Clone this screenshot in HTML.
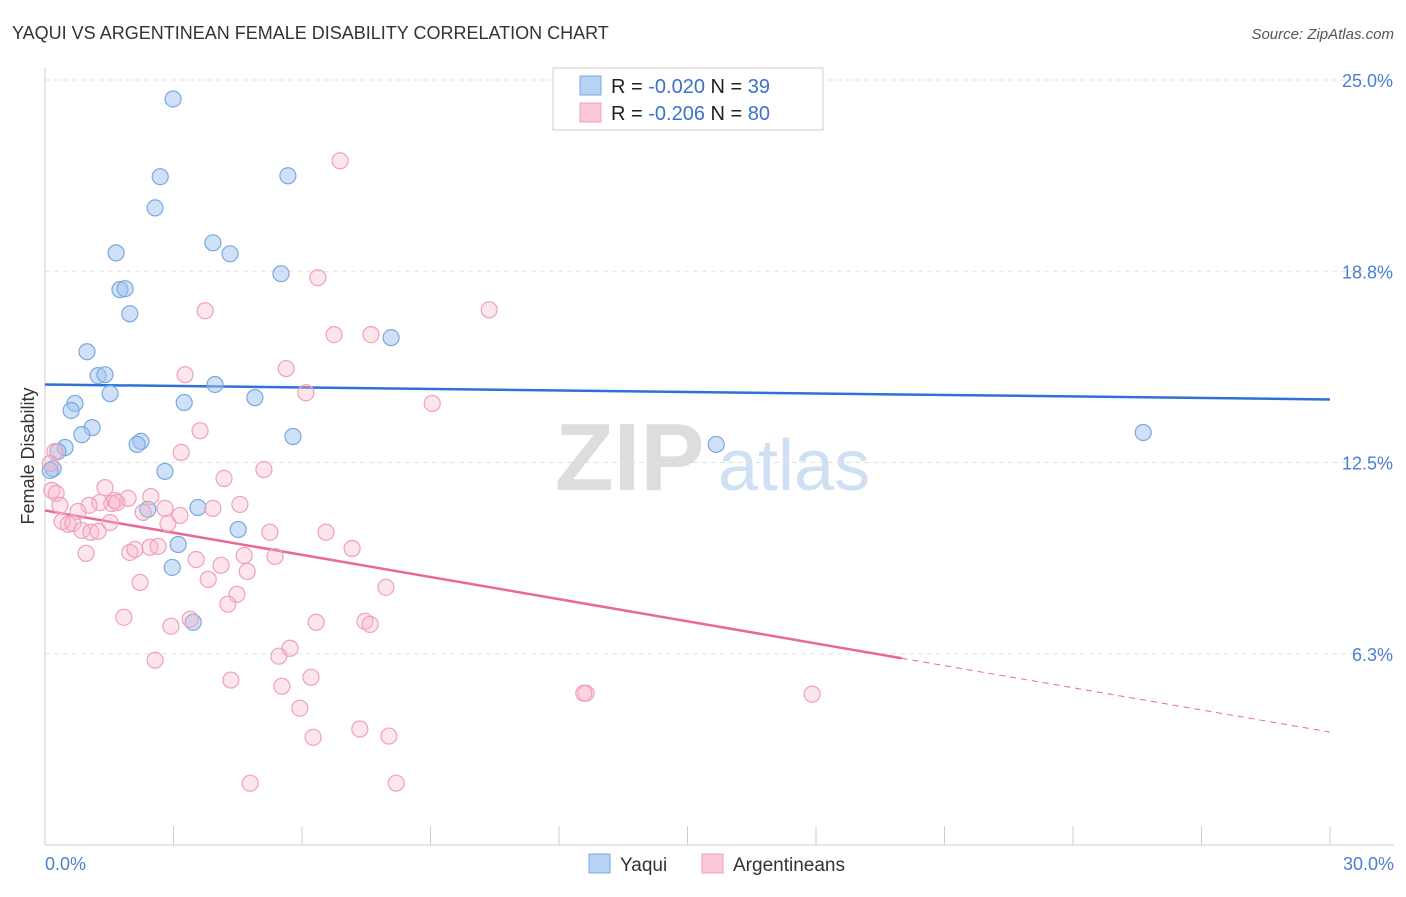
<!DOCTYPE html>
<html><head><meta charset="utf-8"><style>
body{margin:0;background:#fff;font-family:"Liberation Sans",sans-serif;}
svg text{font-family:"Liberation Sans",sans-serif;}
</style></head><body>
<svg id="chart" width="1406" height="892" xmlns="http://www.w3.org/2000/svg">
<text x="12" y="39" font-size="18" fill="#333">YAQUI VS ARGENTINEAN FEMALE DISABILITY CORRELATION CHART</text>
<text x="1394" y="39" font-size="15" fill="#555" font-style="italic" text-anchor="end">Source: ZipAtlas.com</text>
<g>
<text x="555" y="490" font-size="96" fill="#ddd" font-family="Liberation Serif" font-weight="bold">ZIP</text>
<text x="718" y="490" font-size="72" fill="#cfe0f4">atlas</text>
</g>
<g id="grid"></g>
<g id="axes"></g>
<g id="lines"></g>
<g id="pts"></g>
<text transform="translate(34,456) rotate(-90)" font-size="18" fill="#333" text-anchor="middle">Female Disability</text>
<text x="45" y="870" font-size="18" fill="#4a7fd4">0.0%</text>
<text x="1394" y="870" font-size="18" fill="#4a7fd4" text-anchor="end">30.0%</text>
<g>
<rect x="553" y="68" width="270" height="62" fill="#fff" stroke="#ccc"/>
<rect x="580" y="76" width="21" height="19" fill="#b8d2f4" stroke="#7aa8e0"/>
<rect x="580" y="103" width="21" height="19" fill="#fac8d6" stroke="#f0a0b8"/>
<text x="611" y="93" font-size="20" fill="#222">R = <tspan fill="#3a72d0">-0.020</tspan>   N =  <tspan fill="#3a72d0">39</tspan></text>
<text x="611" y="120" font-size="20" fill="#222">R = <tspan fill="#3a72d0">-0.206</tspan>   N = <tspan fill="#3a72d0">80</tspan></text>
</g>
<g>
<rect x="589" y="854" width="21" height="19" fill="#b8d2f4" stroke="#7aa8e0"/>
<text x="620" y="871" font-size="19" fill="#333">Yaqui</text>
<rect x="702" y="854" width="21" height="19" fill="#fac8d6" stroke="#f0a0b8"/>
<text x="733" y="871" font-size="19" fill="#333">Argentineans</text>
</g>
</svg>
<script>
const yTicks=[6.3,12.5,18.8,25.0];
const yTickVals=[6.25,12.5,18.75,25];
const blueX=[2.99,2.69,5.67,2.57,3.92,1.66,4.32,5.51,1.75,1.87,1.98,8.08,0.98,1.24,1.40,3.97,1.52,3.25,4.90,0.70,0.61,1.10,0.86,5.79,2.24,2.15,0.47,0.30,15.67,25.64,2.80,0.19,0.12,3.57,2.40,4.51,3.11,2.97,3.46];
const blueY=[24.38,21.84,21.87,20.82,19.68,19.35,19.32,18.67,18.15,18.18,17.36,16.58,16.12,15.34,15.37,15.05,14.75,14.46,14.62,14.43,14.20,13.64,13.41,13.35,13.19,13.09,12.99,12.86,13.09,13.48,12.21,12.30,12.24,11.03,10.97,10.31,9.82,9.07,7.28];
const pinkX=[6.89,6.37,10.37,3.74,6.75,7.61,5.63,3.27,6.09,9.04,3.62,3.18,0.23,0.12,5.11,4.18,1.40,0.16,0.26,2.47,1.94,1.63,1.56,1.68,1.28,4.55,0.35,1.03,3.92,2.80,3.15,2.29,0.77,2.87,1.52,0.40,0.54,0.65,0.86,1.07,1.24,5.25,6.56,2.45,2.64,1.98,2.10,4.65,5.37,7.17,0.96,3.53,4.11,4.72,3.81,2.22,7.96,4.48,4.27,1.84,3.39,6.33,7.47,7.59,2.94,5.72,5.46,2.57,6.21,4.34,5.53,12.63,12.58,17.91,5.95,7.35,8.03,6.26,4.79,8.20];
const pinkY=[22.36,18.54,17.49,17.46,16.68,16.68,15.57,15.37,14.78,14.43,13.54,12.83,12.86,12.47,12.27,11.98,11.68,11.59,11.49,11.39,11.33,11.26,11.16,11.19,11.19,11.13,11.10,11.10,11.00,11.00,10.77,10.87,10.90,10.51,10.54,10.57,10.48,10.51,10.28,10.22,10.25,10.22,10.22,9.73,9.76,9.56,9.66,9.46,9.43,9.69,9.53,9.33,9.14,8.94,8.68,8.58,8.42,8.19,7.87,7.44,7.38,7.28,7.31,7.21,7.15,6.43,6.17,6.04,5.48,5.39,5.19,4.96,4.96,4.93,4.47,3.79,3.56,3.52,2.02,2.02];
const blueTrend=[15.05,14.56];
const pinkTrend=[10.93,3.69];
const pinkSolidEnd=20;
const NS="http://www.w3.org/2000/svg";
function sx(v){return 45+v*(1330-45)/30;}
function sy(v){return 845-v*(845-80)/25;}
function mk(tag,attrs,parent){const e=document.createElementNS(NS,tag);for(const k in attrs)e.setAttribute(k,attrs[k]);parent.appendChild(e);return e;}
const grid=document.getElementById('grid'),axes=document.getElementById('axes'),lines=document.getElementById('lines'),pts=document.getElementById('pts');
yTickVals.forEach((v,i)=>{
 const l=mk('line',{x1:45,x2:1394,y1:sy(v),y2:sy(v),stroke:'#e2e2e2','stroke-dasharray':'5,4'},grid);
 
 
 const t=mk('text',{x:1393,y:sy(v)+7,'font-size':18,fill:'#4a7fd4','text-anchor':'end'},axes);
 t.textContent=yTicks[i].toFixed(1)+'%';
 
 
});
const ya=mk('line',{x1:45,x2:45,y1:68,y2:845,stroke:'#ccc'},axes);


const xa=mk('line',{x1:45,x2:1394,y1:845,y2:845,stroke:'#ccc'},axes);


for(let i=0;i<=10;i++){
 const t=mk('line',{x1:sx(i*3),x2:sx(i*3),y1:826,y2:845,stroke:'#ccc'},axes);
 
 
}
blueX.forEach((x,i)=>{
 const c=mk('circle',{cx:sx(x),cy:sy(blueY[i]),r:8,fill:'rgba(160,196,240,0.5)',stroke:'#7aa8e0','stroke-width':1.2},pts);
 
 
});
pinkX.forEach((x,i)=>{
 const c=mk('circle',{cx:sx(x),cy:sy(pinkY[i]),r:8,fill:'rgba(248,180,200,0.35)',stroke:'#f0a0b8','stroke-width':1.2},pts);
 
 
});
const bl=mk('line',{x1:sx(0),y1:sy(blueTrend[0]),x2:sx(30),y2:sy(blueTrend[1]),stroke:'#2f6fd8','stroke-width':2.5},lines);


const pm=pinkTrend[0]+(pinkTrend[1]-pinkTrend[0])*pinkSolidEnd/30;
const pl=mk('line',{x1:sx(0),y1:sy(pinkTrend[0]),x2:sx(pinkSolidEnd),y2:sy(pm),stroke:'#e8689a','stroke-width':2.5},lines);


const pd=mk('line',{x1:sx(pinkSolidEnd),y1:sy(pm),x2:sx(30),y2:sy(pinkTrend[1]),stroke:'#e8689a','stroke-width':1,'stroke-dasharray':'6,5'},lines);


</script>
</body></html>
